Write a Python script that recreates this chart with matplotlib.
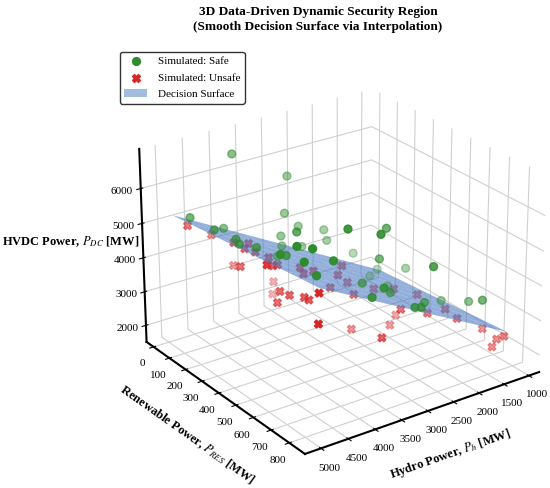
import numpy as np
import matplotlib
matplotlib.use('Agg')
import matplotlib.pyplot as plt
from matplotlib.patches import Patch

plt.rcParams['font.family'] = ['Liberation Serif', 'DejaVu Serif']
plt.rcParams['mathtext.fontset'] = 'stix'
plt.rcParams['grid.color'] = '#d0d0d0'

# simulated operating points [MW]
safe_hydro = [3780, 2890, 3110, 4830, 2910, 4150, 4630, 2440, 3800, 3250,
              2450, 4450, 4420, 4560, 4410, 3230, 2910, 4260, 4630, 3320,
              4000, 4530, 4030, 4340, 3660, 2470, 3220, 1920, 2530, 1570,
              1460, 2430, 1650, 2860, 3190, 2490, 1570, 3450, 2740, 2620,
              2070, 1320, 1220, 1450]
safe_res = [20, 70, 120, 100, 140, 80, 180, 150, 400, 140,
            170, 250, 260, 630, 670, 140, 160, 310, 560, 140,
            400, 660, 670, 670, 640, 510, 690, 170, 490, 210,
            340, 750, 190, 490, 700, 540, 270, 710, 740, 740,
            610, 500, 620, 750]
safe_pdc = [6550, 5690, 4840, 5390, 4430, 4730, 5190, 4150, 5420, 4290,
            3900, 5050, 4930, 6040, 6030, 3990, 3890, 4910, 5640, 3720,
            4840, 5690, 5530, 5260, 6150, 5270, 5960, 3280, 4360, 2760,
            3140, 4890, 2530, 3810, 4480, 3520, 2440, 4370, 3850, 3800,
            3260, 2610, 2920, 3480]

unsafe_hydro = [4850, 4320, 4460, 4250, 4290, 4190, 4070, 3970, 4680, 4120,
                4010, 4410, 3740, 3560, 3710, 3370, 3390, 4060, 3980, 3900,
                3880, 4330, 4110, 4480, 3270, 3090, 3010, 2940, 2990, 2600,
                2280, 2030, 2500, 1980, 2010, 1770, 1640, 2240, 2860, 3080,
                1160, 1070, 1100, 1150]
unsafe_res = [90, 60, 240, 260, 250, 280, 320, 340, 500, 360,
              90, 260, 400, 420, 410, 130, 130, 380, 410, 470,
              490, 680, 380, 720, 430, 420, 420, 430, 480, 480,
              500, 560, 600, 430, 610, 640, 670, 470, 430, 660,
              680, 770, 740, 730]
unsafe_pdc = [5140, 4560, 4930, 4870, 4710, 4660, 4570, 4380, 5190, 4480,
              3610, 4280, 4380, 4260, 4220, 2960, 2600, 3780, 3730, 3820,
              3800, 4810, 3480, 4150, 3680, 3930, 4160, 3680, 3510, 3490,
              3400, 3310, 3230, 2270, 2920, 3020, 2780, 2220, 2270, 2880,
              2280, 2310, 2140, 1900]

# decision surface corner points (interpolated bilinearly in between)
surf_hydro = [4920, 830, 1210, 4790]
surf_res = [20, 20, 820, 820]
surf_pdc = [5270, 1810, 2670, 5600]

fig = plt.figure(figsize=(5.5, 4.88), dpi=100)
ax = fig.add_subplot(projection='3d')
ax.set_position([0.203, -0.005, 0.81, 0.915])
ax.view_init(elev=25, azim=54.5)
ax.computed_zorder = False

sc_u = ax.scatter(unsafe_hydro, unsafe_res, unsafe_pdc, c='#d62728', marker='X', s=32, zorder=1)

corners = np.column_stack([surf_hydro, surf_res, surf_pdc]).astype(float)
u = np.linspace(0, 1, 10)
U, V = np.meshgrid(u, u)
w = [(1 - U) * (1 - V), U * (1 - V), U * V, (1 - U) * V]
surf = sum(wi[..., None] * c for wi, c in zip(w, corners))
ax.plot_surface(surf[..., 0], surf[..., 1], surf[..., 2], color='#4a78c2', alpha=0.6,
                linewidth=0, shade=False, zorder=2)

sc_s = ax.scatter(safe_hydro, safe_res, safe_pdc, c='#2e8b2e', marker='o', s=32, zorder=3)

ax.set_xlim(790, 5290)
ax.set_ylim(-45, 885)
ax.set_zlim(1500, 7120)
ax.set_xticks(np.arange(1000, 5001, 500))
ax.set_yticks(np.arange(0, 801, 100))
ax.set_zticks(np.arange(2000, 6001, 1000))
ax.tick_params(labelsize=8, pad=0)

for a in (ax.xaxis, ax.yaxis, ax.zaxis):
    a.set_pane_color((1, 1, 1, 0))
    a.line.set_color('black')
    a.line.set_linewidth(1.5)

ax.set_xlabel('Hydro Power, $P_h$ [MW]', fontsize=9, fontweight='bold', labelpad=2)
ax.set_ylabel('Renewable Power, $P_{RES}$ [MW]', fontsize=9, fontweight='bold', labelpad=3)
ax.zaxis.set_rotate_label(False)
ax.set_zlabel('HVDC Power, $P_{DC}$ [MW]', fontsize=9, fontweight='bold', rotation=0, labelpad=10)

handles = [sc_s, sc_u, Patch(facecolor='#4a78c2', alpha=0.5)]
labels = ['Simulated: Safe', 'Simulated: Unsafe', 'Decision Surface']
fig.legend(handles, labels, loc='upper left', bbox_to_anchor=(120/550, 1 - 52/488), fontsize=8,
           edgecolor='#333333', fancybox=True, framealpha=1, borderaxespad=0, labelspacing=0.6,
           handletextpad=1.0)

fig.text(318/550, 1 - 6/488, '3D Data-Driven Dynamic Security Region\n(Smooth Decision Surface via Interpolation)',
         ha='center', va='top', fontsize=9.5, fontweight='bold', linespacing=1.3)

fig.savefig('out.png', dpi=100)
